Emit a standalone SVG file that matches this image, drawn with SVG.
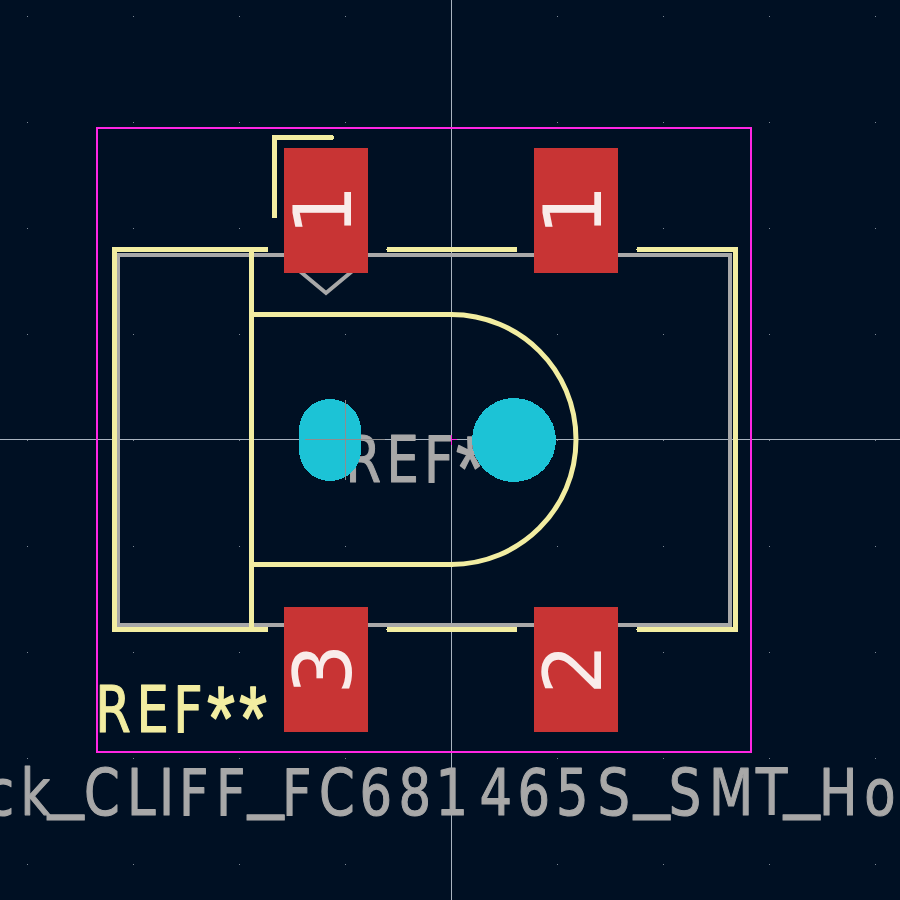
<svg xmlns="http://www.w3.org/2000/svg" width="900" height="900" viewBox="0 0 900 900">
<style>
.fab{fill:none;stroke:#a8a8a8;stroke-width:4;shape-rendering:crispEdges}
.silk{fill:none;stroke:#f2eda1;stroke-width:5;stroke-linecap:round;stroke-linejoin:miter;shape-rendering:crispEdges}
.arc{fill:none;stroke:#f2eda1;stroke-width:5}
.pad{fill:#c83434}
.padn{font-family:"DejaVu Sans",sans-serif;font-size:80px;fill:#f9ecea;text-anchor:middle}
.hole{fill:#1cc3d6;shape-rendering:crispEdges}
.cross{stroke:#a9b4c0;stroke-width:1;fill:none;shape-rendering:crispEdges}
.lbl{font-family:"DejaVu Sans",sans-serif;font-size:64px;stroke-width:1.2;stroke-linejoin:round}
.gray{fill:#a8a8a8;stroke:#a8a8a8}
.yel{fill:#f2eda1;stroke:#f2eda1}
.us{font-family:"Liberation Sans",sans-serif;font-size:80px}
.star{font-family:"Liberation Sans",sans-serif;font-size:90px;stroke-width:1.5}
</style>
<defs><pattern id="grid" x="27" y="16" width="106" height="106" patternUnits="userSpaceOnUse"><rect width="1" height="1" fill="#7d8794"/></pattern></defs>
<rect width="900" height="900" fill="#001023"/>
<rect width="900" height="900" fill="url(#grid)"/>
<g id="crosshair"><path class="cross" d="M451.500 0V900M0 439.500H900"/></g>
<g id="courtyard"><rect x="97" y="128" width="654" height="624" fill="none" stroke="#ff26e2" stroke-width="2" shape-rendering="crispEdges"/></g>
<g id="fab"><rect class="fab" x="118" y="255" width="612" height="370"/><path d="M296 268 326 293 356 268" fill="none" stroke="#a8a8a8" stroke-width="4"/></g>
<g id="silk">
<path class="silk" d="M331.500 137.500H274.500V216"/>
<path class="silk" d="M266 249.500H114.500V629.500H266M389 249.500H515M639 249.500H735.500V629.500H639M389 629.500H515"/>
<path class="silk" d="M251.500 249.500V629.500M251.500 314.500H451M251.500 564.500H451"/>
<path class="arc" d="M451 314.500C520 314.500 576 370 576 439.500C576 509 520 564.500 451 564.500"/>
</g>
<g id="pad-1a"><rect class="pad" x="284" y="148" width="84" height="125"/><text class="padn" transform="translate(351 210) rotate(-90)">1</text></g>
<g id="pad-1b"><rect class="pad" x="534" y="148" width="84" height="125"/><text class="padn" transform="translate(601 210) rotate(-90)">1</text></g>
<g id="pad-3"><rect class="pad" x="284" y="607" width="84" height="125"/><text class="padn" transform="translate(351 669) rotate(-90)">3</text></g>
<g id="pad-2"><rect class="pad" x="534" y="607" width="84" height="125"/><text class="padn" transform="translate(601 669) rotate(-90)">2</text></g>
<g id="ref-fab"><text class="lbl gray" transform="scale(.8 1)" y="482"><tspan x="432 483 530">REF</tspan><tspan class="star" x="570 610" y="500">**</tspan></text></g>
<g id="holes"><rect class="hole" x="299" y="399" width="62" height="82" rx="31"/><circle class="hole" cx="514" cy="440" r="42"/><path d="M305 439.500H385M345.500 400V480" fill="none" stroke="#8e8e8e" stroke-width="1" shape-rendering="crispEdges"/></g>
<path d="M451.500 435V445M451 439.500H457" stroke="#ff26e2" stroke-width="1" shape-rendering="crispEdges"/>
<g id="ref-silk"><text class="lbl yel" transform="scale(.8 1)" y="732"><tspan x="119 170.500 216.500">REF</tspan><tspan class="star" x="258.800 298.800" y="750">**</tspan></text></g>
<g id="value"><text class="lbl gray" transform="scale(.8 1)"><tspan y="815" x="-17.500 25.500">ck</tspan><tspan class="us" x="60" y="804.500">_</tspan><tspan y="815" x="105 158.800 198.800 223.800 270">CLIFF</tspan><tspan class="us" x="310" y="804.500">_</tspan><tspan y="815" x="352.500 398.900 449.300 498.100 544.300 599.400 646.800 695 747">FC681465S</tspan><tspan class="us" x="792.500" y="804.500">_</tspan><tspan y="815" x="835.800 886.300 945">SMT</tspan><tspan class="us" x="980" y="804.500">_</tspan><tspan y="815" x="1023.800 1080.300">Ho</tspan></text></g>
</svg>
